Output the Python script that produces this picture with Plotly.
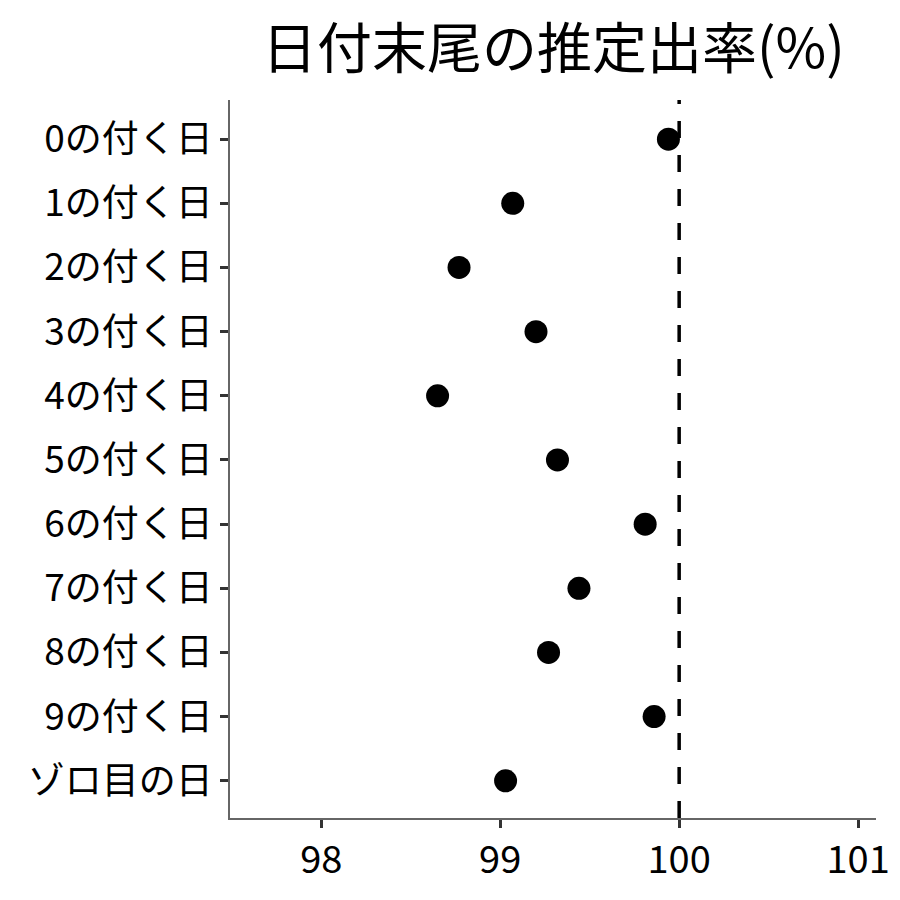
import plotly.graph_objects as go

categories = ["0の付く日", "1の付く日", "2の付く日", "3の付く日", "4の付く日",
              "5の付く日", "6の付く日", "7の付く日", "8の付く日", "9の付く日", "ゾロ目の日"]
rates = [99.94, 99.07, 98.77, 99.20, 98.65, 99.32, 99.81, 99.44, 99.27, 99.86, 99.03]
x_ticks = [98, 99, 100, 101]
ref_value = 100
title_text = "日付末尾の推定出率(%)"

FONT = "Noto Sans CJK JP"

fig = go.Figure()
fig.add_trace(go.Scatter(
    x=rates, y=categories, mode="markers",
    marker=dict(color="black", size=23),
    showlegend=False, hoverinfo="x+y"))

fig.add_shape(type="line", xref="x", yref="paper", x0=ref_value, x1=ref_value, y0=0, y1=1,
              line=dict(color="black", width=3.5, dash="17px,17px"))

fig.update_layout(
    width=900, height=900,
    margin=dict(l=222, r=32, t=92, b=90),
    plot_bgcolor="white", paper_bgcolor="white",
    font=dict(family=FONT, color="black"),
    title=dict(text=title_text, x=0.606, xanchor="center", y=0.955, yanchor="middle",
               font=dict(size=55, family=FONT, color="black")),
)
fig.update_xaxes(
    range=[97.49, 101.1], tickvals=x_ticks, ticktext=[str(v) for v in x_ticks],
    showgrid=False, zeroline=False, showline=True, linecolor="#666", linewidth=1.5,
    ticks="outside", ticklen=8, tickwidth=2.5, tickcolor="#333",
    tickfont=dict(size=38, family=FONT, color="black"))
fig.update_yaxes(
    type="category", categoryorder="array", categoryarray=categories,
    range=[10.58, -0.61],
    showgrid=False, zeroline=False, showline=True, linecolor="#666", linewidth=1.5,
    ticks="outside", ticklen=8, tickwidth=2.5, tickcolor="#333",
    tickfont=dict(size=37, family=FONT, color="black"))

fig.write_html("out.html")
